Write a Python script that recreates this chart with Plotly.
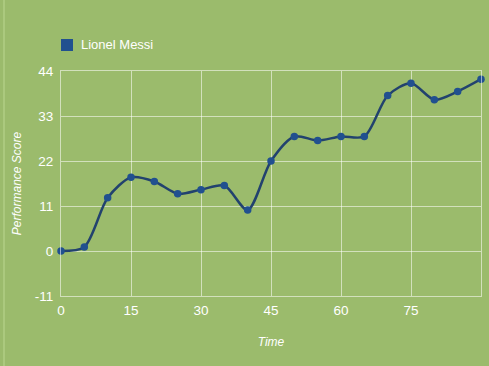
import plotly.graph_objects as go

time = list(range(0, 95, 5))
score = [0, 1, 13, 18, 17, 14, 15, 16, 10, 22, 28, 27, 28, 28, 38, 41, 37, 39, 42]
series_name = "Lionel Messi"
x_ticks = [0, 15, 30, 45, 60, 75]
y_ticks = [-11, 0, 11, 22, 33, 44]

bg = "#9bbb6c"
line_col = "#22426e"
marker_col = "#21508f"
grid = "rgba(255,255,255,0.55)"
font_fam = "Liberation Sans, Arial, sans-serif"

fig = go.Figure()
fig.add_trace(go.Scatter(
    x=time, y=score, mode="lines+markers", name=series_name, showlegend=False,
    line=dict(shape="spline", smoothing=0.8, color=line_col, width=2.5),
    marker=dict(color=marker_col, size=7.5),
    cliponaxis=False,
))

# legend (square + label)
fig.add_shape(type="rect", xref="paper", yref="paper",
              x0=0.0, x1=12 / 420, y0=(296 - 51) / 225, y1=(296 - 39) / 225,
              fillcolor=marker_col, line=dict(width=0))
fig.add_annotation(text=series_name, xref="paper", yref="paper",
                   x=18 / 420, y=(296 - 44.5) / 225, xanchor="left", yanchor="middle",
                   showarrow=False, font=dict(size=13, color="white"))

# faint frame line on left edge
fig.add_shape(type="line", xref="paper", yref="paper",
              x0=-57 / 420, x1=-57 / 420, y0=-70 / 225, y1=296 / 225,
              line=dict(color="rgba(210,235,170,0.6)", width=1))

fig.update_layout(
    width=489, height=366,
    paper_bgcolor=bg, plot_bgcolor=bg,
    margin=dict(l=61, r=8, t=71, b=70),
    font=dict(family=font_fam, color="white", size=13),
    showlegend=False,
    xaxis=dict(
        range=[0, 90], tickvals=x_ticks, ticktext=[str(v) for v in x_ticks],
        showgrid=True, gridcolor=grid, gridwidth=1,
        showline=True, mirror=True, linecolor=grid, linewidth=1,
        zeroline=False, ticks="", ticklabelstandoff=2,
        tickfont=dict(size=13.5, color="white"),
        title=dict(text="<i>Time</i>", font=dict(size=12, color="white"), standoff=20),
    ),
    yaxis=dict(
        range=[-11, 44], tickvals=y_ticks, ticktext=[str(v) for v in y_ticks],
        showgrid=True, gridcolor=grid, gridwidth=1,
        showline=True, mirror=True, linecolor=grid, linewidth=1,
        zeroline=False, ticks="", ticklabelstandoff=4,
        tickfont=dict(size=13.5, color="white"),
        title=dict(text="<i>Performance Score</i>", font=dict(size=12, color="white"), standoff=10),
    ),
)

fig.write_html("out.html", config={"displayModeBar": False},
               post_script="document.body.style.margin='0';")
